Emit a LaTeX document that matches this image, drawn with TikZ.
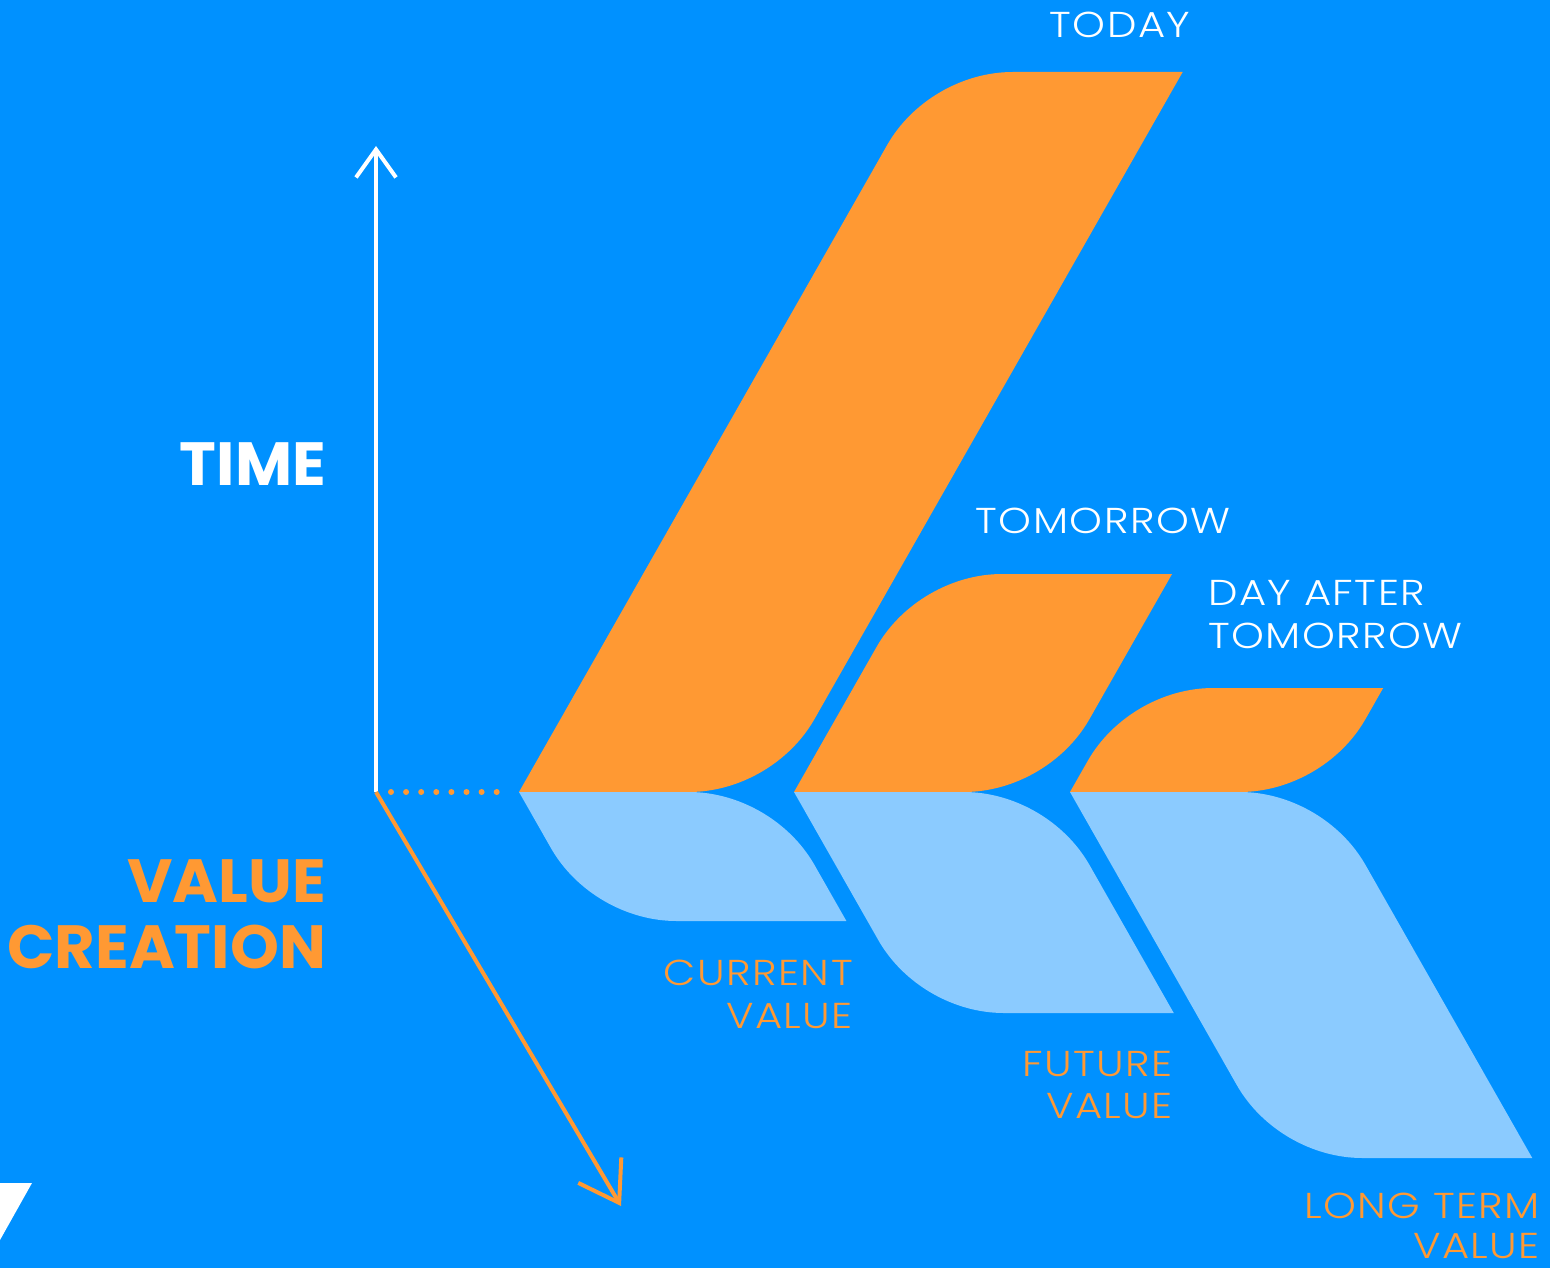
\documentclass[tikz,border=0pt]{standalone}
\usepackage{fontspec}
\usetikzlibrary{arrows.meta}
\newfontfamily\lightf{Poppins Light}[FakeStretch=1.16, LetterSpace=4]
\newfontfamily\boldf{Poppins Bold}[FakeStretch=1.02]
\definecolor{bgblue}{RGB}{0,145,255}
\definecolor{orangec}{RGB}{255,153,51}
\definecolor{lightb}{RGB}{139,203,255}
\newcommand\orangeshape[2]{%
 \pgfmathsetmacro\tlx{#1+0.569*#2}%
 \fill[orangec] (#1,792) -- (\tlx-41.5,792-#2+73)
   .. controls (\tlx-16.6,792-#2+29.2) and (\tlx+33.6,792-#2) .. (\tlx+84,792-#2)
   -- (\tlx+254,792-#2) -- (#1+254+41.5,719)
   .. controls (#1+254+16.6,762.8) and (#1+254-33.6,792) .. (#1+254-84,792) -- cycle;}
\newcommand\blueshape[2]{%
 \pgfmathsetmacro\blx{#1+0.569*#2}%
 \fill[lightb] (#1,792) -- (#1+254-84,792)
   .. controls (#1+254-33.6,792) and (#1+254+16.6,821.2) .. (#1+254+41.5,865)
   -- (\blx+254,792+#2) -- (\blx+84,792+#2)
   .. controls (\blx+33.6,792+#2) and (\blx-16.6,792+#2-29.2) .. (\blx-41.5,792+#2-73) -- cycle;}
\tikzset{
  lbl/.style={font=\lightf\fontsize{36}{36}\selectfont, inner sep=0pt},
  big/.style={font=\boldf\fontsize{61}{61}\selectfont, inner sep=0pt},
}
\begin{document}
\begin{tikzpicture}[x=1pt,y=-1pt]
\useasboundingbox (0,0) rectangle (1550,1268);
\fill[bgblue] (0,0) rectangle (1550,1268);
% shapes
\orangeshape{519}{720}
\orangeshape{794}{218}
\orangeshape{1070}{104}
\blueshape{519}{129}
\blueshape{794}{221}
\blueshape{1070}{366}
% corner triangle
\fill[white] (0,1183) -- (32,1183) -- (0,1240) -- cycle;
% axes
\coordinate (o) at (376,792);
\coordinate (ttop) at (376,146);
\coordinate (vend) at (621,1206);
\coordinate (d1) at (391,792);
\coordinate (d2) at (497,792);
\draw[white, line width=4pt, -{Straight Barb[length=28pt,width=40pt,line width=4pt]}] (o) -- (ttop);
\draw[orangec, line width=4pt, -{Straight Barb[length=38pt,width=50pt,line width=4pt]}] (o) -- (vend);
\draw[orangec, line width=6pt, line cap=round, dash pattern=on 0pt off 15.1pt] (d1) -- (d2);
% labels
\node[lbl, white, anchor=base] (today) at (1120,38) {TODAY};
\node[lbl, white, anchor=base] (tomorrow) at (1103,533) {TOMORROW};
\node[lbl, white, anchor=base west] (dat1) at (1208,605) {DAY AFTER};
\node[lbl, white, anchor=base west] (dat2) at (1208,648) {TOMORROW};
\node[lbl, orangec, anchor=base east] (cv1) at (853,985) {CURRENT};
\node[lbl, orangec, anchor=base east] (cv2) at (853,1028) {VALUE};
\node[lbl, orangec, anchor=base east] (fv1) at (1173,1076) {FUTURE};
\node[lbl, orangec, anchor=base east] (fv2) at (1173,1118) {VALUE};
\node[lbl, orangec, anchor=base east] (lt1) at (1540,1218) {LONG TERM};
\node[lbl, orangec, anchor=base east] (lt2) at (1540,1258) {VALUE};
\node[big, white, anchor=base east] (time) at (326,485) {TIME};
\node[big, orangec, anchor=base east] (vc1) at (326,902) {VALUE};
\node[big, orangec, anchor=base east] (vc2) at (326,968) {CREATION};
\end{tikzpicture}
\end{document}
